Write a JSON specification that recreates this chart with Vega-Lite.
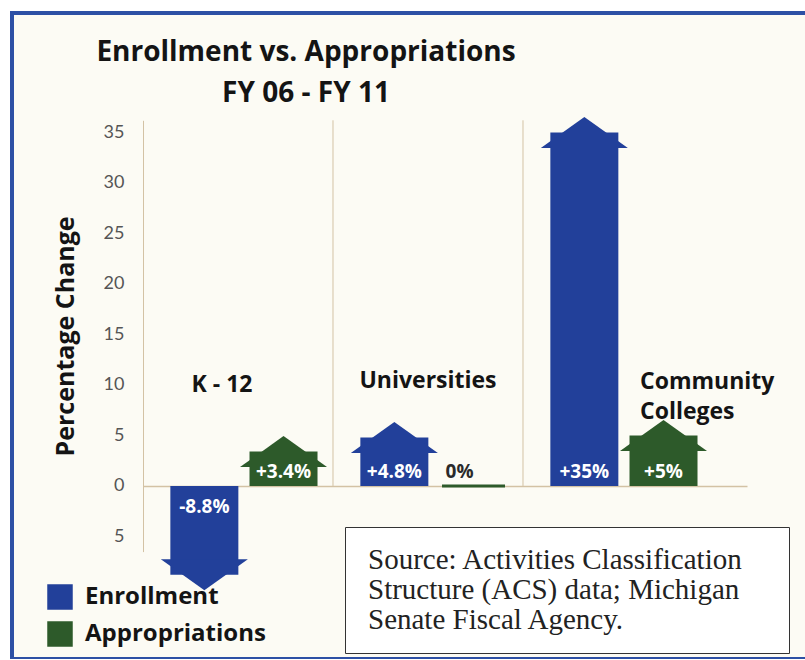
{
  "$schema": "https://vega.github.io/schema/vega-lite/v6.json",
  "width": 793,
  "height": 646,
  "autosize": "none",
  "padding": {"left": 12, "top": 13, "right": 0, "bottom": 0},
  "background": "#ffffff",
  "config": {
    "font": "Open Sans",
    "view": {"fill": "#fcfbf4", "stroke": "#2d50a5", "strokeWidth": 4, "strokeDash": [793, 646, 1439, 1]}
  },
  "title": {
    "text": ["Enrollment vs. Appropriations", "FY 06 - FY 11"],
    "anchor": "start",
    "frame": "group",
    "align": "center",
    "dx": 294,
    "baseline": "top",
    "offset": -95,
    "font": "Open Sans",
    "fontSize": 28,
    "fontWeight": "bold",
    "color": "#141414",
    "lineHeight": 41
  },
  "datasets": {
    "main": [
      {"category": "K - 12", "series": "Enrollment", "value": -8.8, "label": "-8.8%"},
      {"category": "K - 12", "series": "Appropriations", "value": 3.4, "label": "+3.4%"},
      {"category": "Universities", "series": "Enrollment", "value": 4.8, "label": "+4.8%"},
      {"category": "Universities", "series": "Appropriations", "value": 0, "label": "0%"},
      {"category": "Community Colleges", "series": "Enrollment", "value": 35, "label": "+35%"},
      {"category": "Community Colleges", "series": "Appropriations", "value": 5, "label": "+5%"}
    ],
    "source": [
      {"line": "Source: Activities Classification"},
      {"line": "Structure (ACS) data; Michigan"},
      {"line": "Senate Fiscal Agency."}
    ]
  },
  "data": {"name": "main"},
  "encoding": {
    "x": {
      "field": "category",
      "type": "nominal",
      "sort": ["K - 12", "Universities", "Community Colleges"],
      "scale": {"domain": ["K - 12", "Universities", "Community Colleges"], "range": [131, 735], "paddingInner": 0, "paddingOuter": 0.0895, "align": 0},
      "axis": {"orient": "bottom", "offset": -173, "labels": false, "ticks": false, "grid": false, "title": null, "domainColor": "#d3c2a4", "domainWidth": 1.5}
    }
  },
  "layer": [
    {
      "transform": [{"filter": "datum.value != 0"}],
      "mark": {"type": "bar", "width": 68},
      "encoding": {
        "xOffset": {"field": "series", "type": "nominal", "sort": ["Enrollment", "Appropriations"], "scale": {"domain": ["Enrollment", "Appropriations"], "paddingInner": 0.1, "paddingOuter": 0.25, "align": 0.65}},
        "y": {
          "field": "value",
          "type": "quantitative",
          "title": "Percentage Change",
          "scale": {"domain": [-6.5, 36.2], "range": [538.6, 107.3], "nice": false, "zero": false},
          "axis": {
            "orient": "left",
            "title": "Percentage Change",
            "titleFont": "Open Sans",
            "titleFontSize": 25,
            "titleFontWeight": "bold",
            "titleColor": "#141414",
            "titlePadding": 25,
            "values": [-5, 0, 5, 10, 15, 20, 25, 30, 35],
            "labelExpr": "'' + abs(datum.value)",
            "labelFont": "Lato",
            "labelFontSize": 18,
            "labelColor": "#555555",
            "labelPadding": 19,
            "ticks": false,
            "grid": false,
            "domain": true,
            "domainColor": "#d3c2a4",
            "domainWidth": 1,
            "offset": -131
          }
        },
        "y2": {"datum": 0},
        "color": {
          "field": "series",
          "type": "nominal",
          "scale": {"domain": ["Enrollment", "Appropriations"], "range": ["#22409a", "#2d5a2a"]},
          "legend": {
            "orient": "none",
            "legendX": 35,
            "legendY": 571,
            "title": null,
            "padding": 0,
            "symbolType": "square",
            "symbolSize": 650,
            "symbolStrokeWidth": 0,
            "symbolOpacity": 1,
            "labelFont": "Open Sans",
            "labelFontSize": 24,
            "labelFontWeight": "bold",
            "labelColor": "#141414",
            "labelOffset": 12,
            "labelLimit": 300,
            "rowPadding": 11
          }
        }
      }
    },
    {
      "transform": [{"filter": "datum.series == 'Enrollment' && datum.category != 'K - 12'"}],
      "mark": {"type": "rule", "color": "#d3c2a4", "strokeWidth": 1},
      "encoding": {
        "x": {"field": "category", "type": "nominal", "bandPosition": 0},
        "y": {"datum": 0, "type": "quantitative", "title": "Percentage Change"},
        "y2": {"datum": 36.2}
      }
    },
    {
      "transform": [{"filter": "datum.value > 0"}],
      "mark": {"type": "point", "shape": "M-1,0.356L1,0.356L0,-0.356Z", "size": 7569, "filled": true, "opacity": 1, "strokeWidth": 0},
      "encoding": {
        "xOffset": {"field": "series", "type": "nominal", "sort": ["Enrollment", "Appropriations"]},
        "y": {"field": "value", "type": "quantitative", "title": "Percentage Change"},
        "color": {"field": "series", "type": "nominal"}
      }
    },
    {
      "transform": [{"filter": "datum.value < 0"}],
      "mark": {"type": "point", "shape": "M-1,-0.356L1,-0.356L0,0.356Z", "size": 7569, "filled": true, "opacity": 1, "strokeWidth": 0},
      "encoding": {
        "xOffset": {"field": "series", "type": "nominal", "sort": ["Enrollment", "Appropriations"]},
        "y": {"field": "value", "type": "quantitative", "title": "Percentage Change"},
        "color": {"field": "series", "type": "nominal"}
      }
    },
    {
      "transform": [{"filter": "datum.value == 0"}],
      "mark": {"type": "tick", "thickness": 3, "size": 63, "opacity": 1},
      "encoding": {
        "xOffset": {"field": "series", "type": "nominal", "sort": ["Enrollment", "Appropriations"]},
        "y": {"field": "value", "type": "quantitative", "title": "Percentage Change"},
        "color": {"field": "series", "type": "nominal"}
      }
    },
    {
      "transform": [{"filter": "datum.value > 0"}],
      "mark": {"type": "text", "baseline": "middle", "align": "center", "dy": -14, "font": "Open Sans", "fontSize": 19, "fontWeight": "bold", "color": "#ffffff"},
      "encoding": {
        "xOffset": {"field": "series", "type": "nominal", "sort": ["Enrollment", "Appropriations"]},
        "y": {"datum": 0, "type": "quantitative", "title": "Percentage Change"},
        "text": {"field": "label"}
      }
    },
    {
      "transform": [{"filter": "datum.value < 0"}],
      "mark": {"type": "text", "baseline": "middle", "align": "center", "dy": 21, "font": "Open Sans", "fontSize": 19, "fontWeight": "bold", "color": "#ffffff"},
      "encoding": {
        "xOffset": {"field": "series", "type": "nominal", "sort": ["Enrollment", "Appropriations"]},
        "y": {"datum": 0, "type": "quantitative", "title": "Percentage Change"},
        "text": {"field": "label"}
      }
    },
    {
      "transform": [{"filter": "datum.value == 0"}],
      "mark": {"type": "text", "baseline": "middle", "align": "left", "dx": -28, "dy": -14, "font": "Open Sans", "fontSize": 19, "fontWeight": "bold", "color": "#2a2a2a"},
      "encoding": {
        "xOffset": {"field": "series", "type": "nominal", "sort": ["Enrollment", "Appropriations"]},
        "y": {"datum": 0, "type": "quantitative", "title": "Percentage Change"},
        "text": {"field": "label"}
      }
    },
    {
      "transform": [{"filter": "datum.series == 'Enrollment' && datum.category == 'K - 12'"}],
      "mark": {"type": "text", "baseline": "middle", "align": "center", "dx": -16, "font": "Open Sans", "fontSize": 23, "fontWeight": "bold", "color": "#141414"},
      "encoding": {
        "y": {"datum": 10, "type": "quantitative", "title": "Percentage Change"},
        "text": {"field": "category"}
      }
    },
    {
      "transform": [{"filter": "datum.series == 'Enrollment' && datum.category == 'Universities'"}],
      "mark": {"type": "text", "baseline": "middle", "align": "center", "font": "Open Sans", "fontSize": 23, "fontWeight": "bold", "color": "#141414"},
      "encoding": {
        "y": {"datum": 10.4, "type": "quantitative", "title": "Percentage Change"},
        "text": {"field": "category"}
      }
    },
    {
      "transform": [{"filter": "datum.series == 'Enrollment' && datum.category == 'Community Colleges'"}],
      "mark": {"type": "text", "baseline": "middle", "align": "left", "dx": 22, "lineBreak": " ", "lineHeight": 30, "font": "Open Sans", "fontSize": 23, "fontWeight": "bold", "color": "#141414"},
      "encoding": {
        "y": {"datum": 10.3, "type": "quantitative", "title": "Percentage Change"},
        "text": {"field": "category"}
      }
    },
    {
      "data": {"name": "source"},
      "mark": {"type": "point", "opacity": 0, "size": 0},
      "encoding": {
        "x": {"value": 0},
        "shape": {
          "field": "line",
          "type": "nominal",
          "sort": null,
          "legend": {
            "orient": "none",
            "legendX": 333,
            "legendY": 514,
            "title": " ",
            "titleOrient": "right",
            "titlePadding": 28,
            "titleFontSize": 10,
            "titleColor": "#ffffff",
            "padding": 18,
            "fillColor": "#ffffff",
            "strokeColor": "#333333",
            "symbolSize": 0,
            "symbolOpacity": 0,
            "symbolStrokeWidth": 0,
            "labelFont": "Liberation Serif",
            "labelFontSize": 29,
            "labelColor": "#222222",
            "labelOffset": -24,
            "labelLimit": 420,
            "rowPadding": -3
          }
        }
      }
    }
  ]
}
